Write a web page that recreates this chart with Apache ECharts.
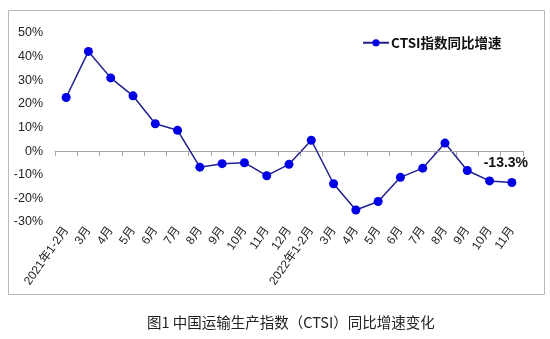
<!DOCTYPE html>
<html>
<head>
<meta charset="utf-8">
<script src="https://cdn.jsdelivr.net/npm/echarts@6/dist/echarts.min.js"></script>
<style>
  html, body { margin: 0; padding: 0; background: #fff; }
  #chart { width: 550px; height: 339px; }
</style>
</head>
<body>
<div id="chart"></div>
<script>
// Month labels for the CTSI year-on-year series
const months = [
  '2021年1-2月', '3月', '4月', '5月', '6月', '7月', '8月', '9月', '10月', '11月', '12月',
  '2022年1-2月', '3月', '4月', '5月', '6月', '7月', '8月', '9月', '10月', '11月'
];
// Year-on-year growth of the index, percent
const growth = [
  22.7, 42.2, 31.0, 23.4, 11.6, 8.8, -6.8, -5.3, -4.9, -10.4, -5.6,
  4.6, -13.8, -24.9, -21.3, -11.1, -7.2, 3.4, -8.2, -12.6, -13.3
];
const seriesName = 'CTSI指数同比增速';
const caption = '图1 中国运输生产指数（CTSI）同比增速变化';
const yMin = -30, yMax = 50, yStep = 10;

const chart = echarts.init(document.getElementById('chart'));
const last = growth.length - 1;

chart.setOption({
  animation: false,
  backgroundColor: '#fff',
  textStyle: { fontFamily: 'Liberation Sans, Arial, sans-serif' },
  graphic: [
    {
      type: 'rect',
      shape: { x: 8.5, y: 10.5, width: 536, height: 284 },
      style: { fill: 'none', stroke: '#b8b8b8', lineWidth: 1 },
      silent: true
    },
    {
      type: 'text',
      left: 147,
      top: 315,
      style: {
        text: caption,
        fill: '#222',
        font: '14.5px "Noto Sans CJK SC", sans-serif'
      }
    }
  ],
  legend: {
    top: 31,
    left: 357,
    itemWidth: 26,
    itemHeight: 9,
    itemGap: 2,
    textStyle: {
      fontWeight: 'bold',
      fontSize: 13.5,
      color: '#111',
      padding: [0, 0, 0, -3],
      fontFamily: '"Noto Sans CJK SC", Liberation Sans, sans-serif'
    },
    data: [seriesName]
  },
  grid: { left: 55, right: 27, top: 33, bottom: 117, outerBoundsMode: 'none' },
  xAxis: {
    type: 'category',
    data: months,
    boundaryGap: true,
    axisLine: { lineStyle: { color: '#a6a6a6', width: 1 } },
    axisTick: { show: true, length: 5, lineStyle: { color: '#a6a6a6' } },
    axisLabel: {
      interval: 0,
      rotate: 55,
      margin: 6,
      fontSize: 12,
      color: '#222',
      fontFamily: 'Liberation Sans, "Noto Sans CJK SC", sans-serif'
    }
  },
  yAxis: {
    type: 'value',
    min: yMin,
    max: yMax,
    interval: yStep,
    axisLine: { show: false },
    axisTick: { show: false },
    splitLine: { show: false },
    axisLabel: {
      margin: 12,
      fontSize: 12.5,
      color: '#222',
      formatter: v => v + '%'
    }
  },
  series: [{
    name: seriesName,
    type: 'line',
    data: growth,
    symbol: 'circle',
    symbolSize: 9,
    lineStyle: { color: '#1f1f8f', width: 1.5 },
    itemStyle: { color: '#0000e6' },
    label: {
      show: true,
      position: 'top',
      offset: [-6, -3],
      fontWeight: 'bold',
      fontSize: 14,
      color: '#111',
      formatter: p => (p.dataIndex === last ? p.value.toFixed(1) + '%' : '')
    },
    markLine: {
      silent: true,
      symbol: 'none',
      label: { show: false },
      lineStyle: { color: '#a6a6a6', type: [4, 3], width: 1 },
      data: [[{ coord: [0, 0] }, { coord: [last, 0] }]]
    }
  }]
});
</script>
</body>
</html>
